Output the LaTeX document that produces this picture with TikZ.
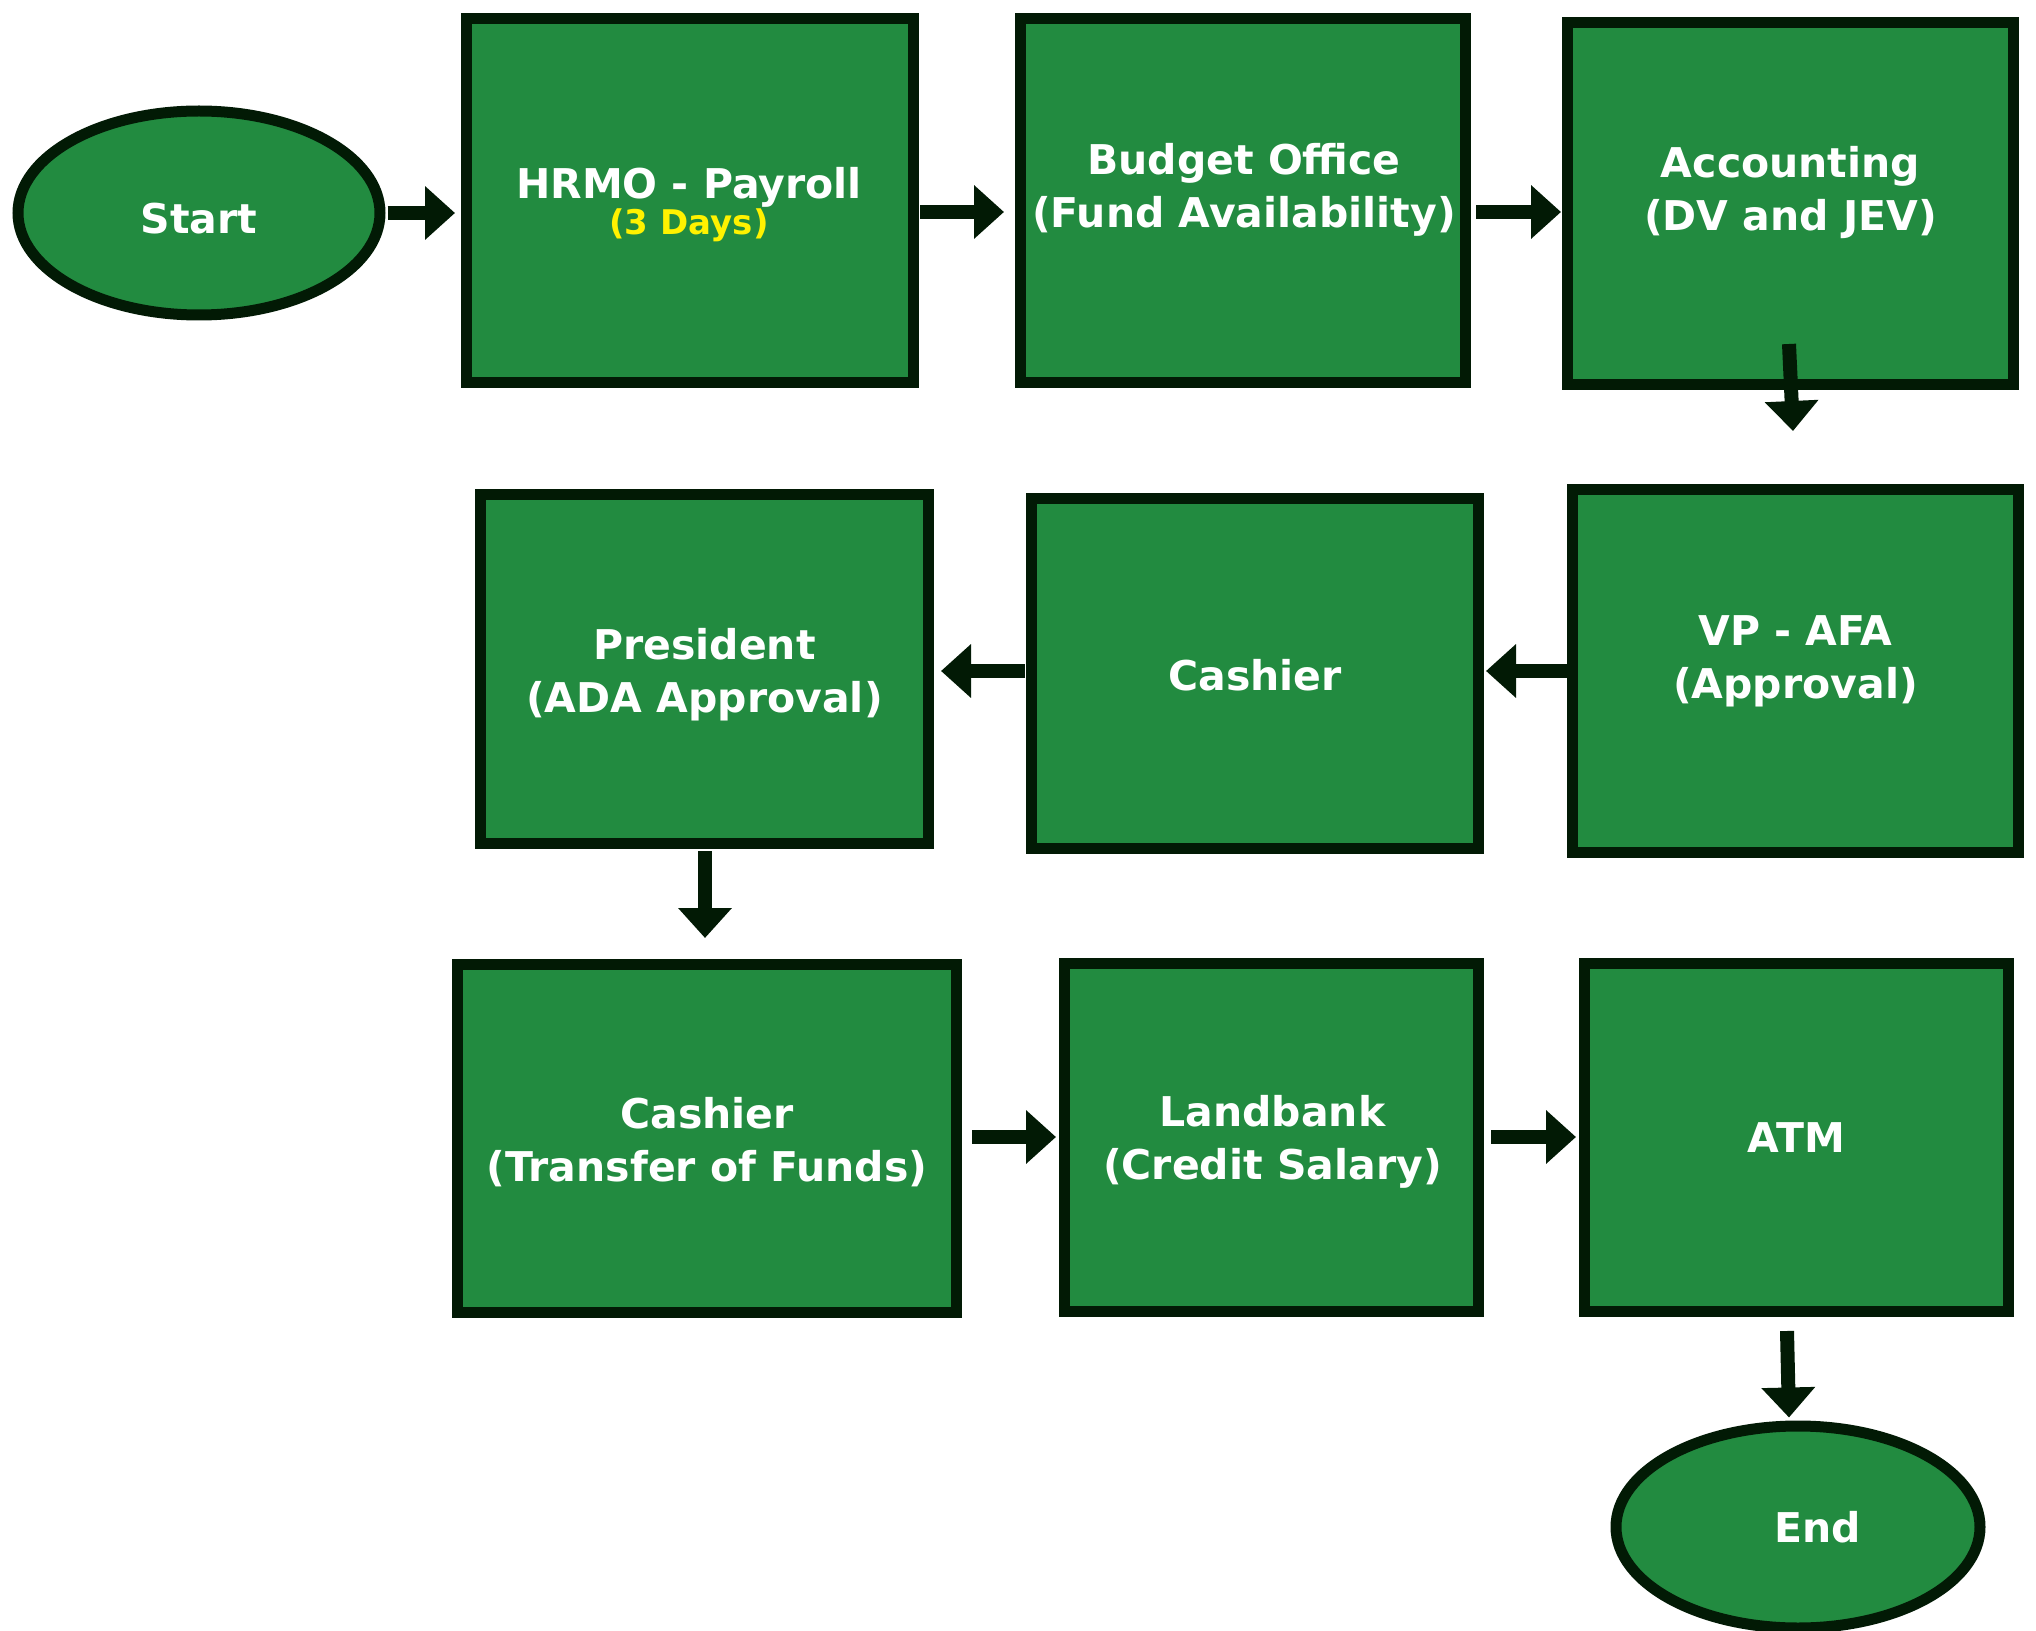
\documentclass[tikz,border=0pt]{standalone}
\usepackage{fontspec}
\setmainfont{DejaVu Sans}
\usetikzlibrary{arrows.meta,calc,shapes.geometric}
\definecolor{boxgreen}{RGB}{34,139,64}
\definecolor{edgegreen}{RGB}{2,26,5}
\definecolor{daysyellow}{RGB}{255,242,0}
\tikzset{
  stepbox/.style={draw=edgegreen, fill=boxgreen, line width=5.5pt, rectangle, inner sep=0pt},
  termnode/.style={draw=edgegreen, fill=boxgreen, line width=5.5pt, ellipse, inner sep=0pt},
  lbl/.style={text=white, font=\bfseries\fontsize{20.5}{26.5}\selectfont, align=center, inner sep=0pt},
  dayslbl/.style={text=daysyellow, font=\bfseries\fontsize{17}{19}\selectfont, inner sep=0pt},
  arr/.style={draw=edgegreen, line width=7pt, -{Triangle[length=15pt,width=26pt]}},
}
\begin{document}
\begin{tikzpicture}[x=0.5pt,y=-0.5pt]
\useasboundingbox (0,0) rectangle (2036,1631);

% terminals
\node[termnode, minimum width=181pt, minimum height=102pt] (start) at (199,213) {};
\node[termnode, minimum width=182pt, minimum height=101pt] (end) at (1798,1527) {};

% process steps
\node[stepbox, minimum width=223.5pt, minimum height=182pt]   (hrmo)      at (690,200.5)   {};
\node[stepbox, minimum width=222.5pt, minimum height=182pt]   (budget)    at (1243,200.5)  {};
\node[stepbox, minimum width=223pt,   minimum height=181pt]   (acct)      at (1790.5,203.5){};
\node[stepbox, minimum width=223pt,   minimum height=181.5pt] (vpafa)     at (1795.5,671)  {};
\node[stepbox, minimum width=223.5pt, minimum height=175pt]   (cashier)   at (1255,673.5)  {};
\node[stepbox, minimum width=224pt,   minimum height=174.5pt] (president) at (704.5,669)   {};
\node[stepbox, minimum width=249.5pt, minimum height=174pt]   (transfer)  at (707,1138.5)  {};
\node[stepbox, minimum width=207pt,   minimum height=174pt]   (landbank)  at (1271.5,1137.5){};
\node[stepbox, minimum width=212pt,   minimum height=174pt]   (atm)       at (1796.5,1137.5){};

% labels
\node[lbl] (start-t) at ($(start)+(0,6)$) {Start};
\node[lbl] (end-t) at ($(end)+(20,0)$) {End};
\node[lbl] (hrmo-t) at ($(hrmo)+(-1,-13)$) {HRMO - Payroll};
\node[dayslbl] (hrmo-d) at ($(hrmo)+(-1,25)$) {(3 Days)};
\node[lbl] (budget-t) at ($(budget)+(1,-11)$) {Budget Office\\(Fund Availability)};
\node[lbl] (acct-t) at ($(acct)+(0,-11)$) {Accounting\\(DV and JEV)};
\node[lbl] (vpafa-t) at ($(vpafa)+(0,-10)$) {VP - AFA\\(Approval)};
\node[lbl] (cashier-t) at ($(cashier)+(0,2)$) {Cashier};
\node[lbl] (president-t) at ($(president)+(0,6)$) {President\\(ADA Approval)};
\node[lbl] (transfer-t) at ($(transfer)+(0,4)$) {Cashier\\(Transfer of Funds)};
\node[lbl] (landbank-t) at ($(landbank)+(1,4)$) {Landbank\\(Credit Salary)};
\node[lbl] (atm-t) at ($(atm)+(0,0)$) {ATM};

% flow
\draw[arr] ($(start.east)+(2,0)$) -- ($(hrmo.west)+(-6,12.5)$);
\draw[arr] ($(hrmo.east)+(1,11.5)$) -- ($(budget.west)+(-11,11.5)$);
\draw[arr] ($(budget.east)+(5,11.5)$) -- ($(acct.west)+(-1,8.5)$);
\draw[arr] ($(acct.south)+(-1.5,-46)$) -- ($(vpafa.north)+(-2.5,-53)$);
\draw[arr] ($(vpafa.west)+(0,0)$) -- ($(cashier.east)+(2,-2.5)$);
\draw[arr] ($(cashier.west)+(-1,-2.5)$) -- ($(president.east)+(7,2)$);
\draw[arr] ($(president.south)+(0.5,2)$) -- ($(transfer.north)+(-2,-21)$);
\draw[arr] ($(transfer.east)+(10,-1.5)$) -- ($(landbank.west)+(-3,-0.5)$);
\draw[arr] ($(landbank.east)+(7,-0.5)$) -- ($(atm.west)+(-3,-0.5)$);
\draw[arr] ($(atm.south)+(-9.5,14)$) -- ($(end.north)+(-9,-3)$);
\end{tikzpicture}
\end{document}
